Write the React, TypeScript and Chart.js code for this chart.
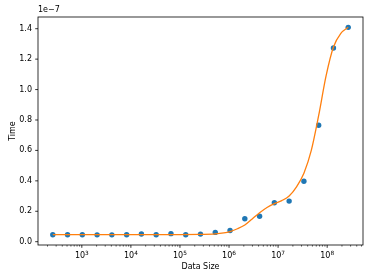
import React, { useEffect, useRef } from "react";
import { Chart, registerables } from "chart.js";

Chart.register(...registerables);

// Data sizes (powers of two, 2^8 .. 2^28)
const dataSizes = [
  256, 512, 1024, 2048, 4096, 8192, 16384, 32768, 65536, 131072, 262144,
  524288, 1048576, 2097152, 4194304, 8388608, 16777216, 33554432, 67108864,
  134217728, 268435456,
];
// Measured time, in units of 1e-7
const timeValues = [
  0.046, 0.046, 0.046, 0.045, 0.045, 0.046, 0.051, 0.046, 0.053, 0.046, 0.05,
  0.061, 0.074, 0.151, 0.167, 0.256, 0.267, 0.397, 0.765, 1.273, 1.409,
];
// Smoothed fit curve
const curveX = [
  256, 4096, 65536, 262144, 524288, 1048576, 1482910, 2097152, 2965821,
  4194304, 5931642, 8388608, 11863283, 16777216, 23726566, 33554432,
  47453133, 67108864, 94906266, 134217728, 189812531, 268435456,
];
const curveY = [
  0.047, 0.047, 0.047, 0.048, 0.051, 0.066, 0.085, 0.11, 0.15, 0.19, 0.225,
  0.25, 0.27, 0.3, 0.36, 0.45, 0.6, 0.83, 1.09, 1.28, 1.37, 1.41,
];
const yTicks = [0, 0.2, 0.4, 0.6, 0.8, 1.0, 1.2, 1.4];
const xDecades = [100, 1000, 10000, 100000, 1000000, 10000000, 100000000];
const xMin = 128;
const xMax = 536870912;
const yMin = -0.0217;
const yMax = 1.477;
const FONT = "'DejaVu Sans', sans-serif";

const framePlugin = {
  id: "frame",
  afterDraw(chart: any) {
    const { ctx, chartArea: a, scales } = chart;
    ctx.save();
    ctx.strokeStyle = "#000";
    ctx.lineWidth = 0.8;
    ctx.strokeRect(a.left, a.top, a.right - a.left, a.bottom - a.top);
    const xs = scales.x;
    ctx.fillStyle = "#000";
    xs.ticks.forEach((t: any) => {
      const px = xs.getPixelForValue(t.value);
      if (px < a.left - 0.5 || px > a.right + 0.5) return;
      const major = t.major;
      ctx.beginPath();
      ctx.lineWidth = major ? 0.8 : 0.6;
      ctx.moveTo(px, a.bottom);
      ctx.lineTo(px, a.bottom + (major ? 2.8 : 1.6));
      ctx.stroke();
      if (major) {
        const exp = String(Math.round(Math.log10(t.value)));
        ctx.font = `8px ${FONT}`;
        const wBase = ctx.measureText("10").width;
        ctx.font = `5.8px ${FONT}`;
        const wExp = ctx.measureText(exp).width;
        const x0 = px - (wBase + wExp) / 2;
        ctx.textAlign = "left";
        ctx.textBaseline = "alphabetic";
        ctx.font = `8px ${FONT}`;
        ctx.fillText("10", x0, a.bottom + 13.3);
        ctx.font = `5.8px ${FONT}`;
        ctx.fillText(exp, x0 + wBase, a.bottom + 10);
      }
    });
    const ys = scales.y;
    ys.ticks.forEach((t: any) => {
      const py = ys.getPixelForValue(t.value);
      ctx.beginPath();
      ctx.lineWidth = 0.8;
      ctx.moveTo(a.left - 2.8, py);
      ctx.lineTo(a.left, py);
      ctx.stroke();
    });
    ctx.font = `8px ${FONT}`;
    ctx.textAlign = "left";
    ctx.textBaseline = "bottom";
    ctx.fillText("1e\u22127", a.left, a.top - 3);
    ctx.restore();
  },
};

export default function App() {
  const ref = useRef<HTMLCanvasElement>(null);
  useEffect(() => {
    document.body.style.margin = "0";
    const canvas = ref.current!;
    const chart = new Chart(canvas, {
      type: "scatter",
      data: {
        datasets: [
          {
            type: "line",
            data: curveX.map((x, i) => ({ x, y: curveY[i] })),
            borderColor: "#ff7f0e",
            borderWidth: 1.3,
            pointRadius: 0,
            showLine: true,
            fill: false,
            cubicInterpolationMode: "monotone",
          } as any,
          {
            data: dataSizes.map((x, i) => ({ x, y: timeValues[i] })),
            backgroundColor: "#1f77b4",
            borderColor: "#1f77b4",
            borderWidth: 0,
            pointRadius: 2.7,
          },
        ],
      },
      plugins: [framePlugin],
      options: {
        responsive: false,
        animation: false,
        layout: { padding: { left: 0, top: 17, right: 11, bottom: 0 } },
        plugins: { legend: { display: false }, tooltip: { enabled: false } },
        scales: {
          x: {
            type: "logarithmic",
            min: xMin,
            max: xMax,
            grid: { display: false, drawTicks: false },
            border: { display: false },
            afterBuildTicks(scale: any) {
              const ticks: any[] = [];
              xDecades.forEach((d) => {
                for (let m = 1; m <= 9; m++) {
                  const v = d * m;
                  if (v >= xMin && v <= xMax) ticks.push({ value: v, major: m === 1 });
                }
              });
              scale.ticks = ticks;
            },
            afterFit(scale: any) {
              scale.height = 35;
            },
            ticks: {
              autoSkip: false,
              maxRotation: 0,
              padding: 4,
              color: "#000",
              font: { family: FONT, size: 8 },
              callback: () => "",
            },
            title: {
              display: true,
              text: "Data Size",
              color: "#000",
              font: { family: FONT, size: 8 },
              padding: { top: 0, bottom: 8.5 },
            },
          },
          y: {
            type: "linear",
            min: yMin,
            max: yMax,
            grid: { display: false, drawTicks: false },
            border: { display: false },
            afterBuildTicks(scale: any) {
              scale.ticks = yTicks.map((v) => ({ value: v }));
            },
            afterFit(scale: any) {
              scale.width = 38;
            },
            ticks: {
              autoSkip: false,
              padding: 6,
              color: "#000",
              font: { family: FONT, size: 8 },
              callback: (v: any) => Number(v).toFixed(1),
            },
            title: {
              display: true,
              text: "Time",
              color: "#000",
              font: { family: FONT, size: 8 },
              padding: { top: 8, bottom: 0 },
            },
          },
        },
      },
    });
    return () => chart.destroy();
  }, []);
  return <canvas ref={ref} width={374} height={280} style={{ display: "block" }} />;
}
